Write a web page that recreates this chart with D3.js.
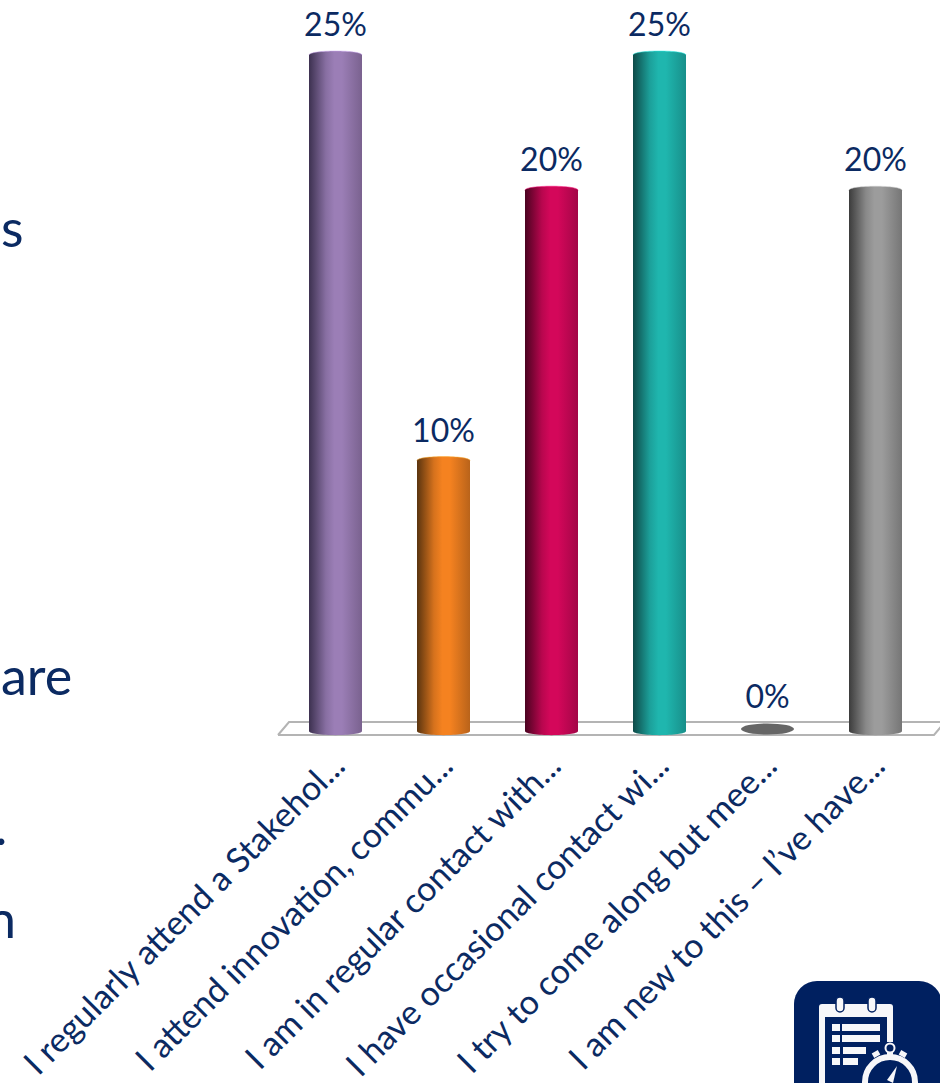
<!DOCTYPE html>
<html>
<head>
<meta charset="utf-8">
<script src="https://cdn.jsdelivr.net/npm/d3@7"></script>
<style>
  html, body { margin: 0; padding: 0; background: #fff; overflow: hidden; }
  svg { display: block; }
  text { font-family: Lato, "Open Sans", sans-serif; fill: #0b2a62; }
</style>
</head>
<body>
<svg id="chart" width="940" height="1083"></svg>
<script>
const categories = [
  "I regularly attend a Stakehol...",
  "I attend innovation, commu...",
  "I am in regular contact with...",
  "I have occasional contact wi...",
  "I try to come along but mee...",
  "I am new to this \u2013 I\u2019ve have..."
];
const percentages = [25, 10, 20, 25, 0, 20];
const barShades = [
  { edge: "#3d3150", mid: "#9b7eb6", side: "#7a628f" },
  { edge: "#5a340f", mid: "#f58220", side: "#b9631a" },
  { edge: "#4a0320", mid: "#d4075a", side: "#a30647" },
  { edge: "#0e4a48", mid: "#1fb6ae", side: "#188f8a" },
  { edge: "#5f5f5f", mid: "#666666", side: "#5f5f5f" },
  { edge: "#3c3c3c", mid: "#9c9c9c", side: "#767676" }
];
// Slide body text running off the left side of the panel
const sideText = [
  { text: "s", x: 1, y: 247 },
  { text: "are", x: 1, y: 695 },
  { text: ".", x: -5, y: 845 },
  { text: "n", x: -13, y: 938 }
];

const svg = d3.select("#chart");
const x = d3.scalePoint().domain(d3.range(categories.length)).range([335.5, 875.5]);
const y = d3.scaleLinear().domain([0, 25]).range([731, 55]);
const barWidth = 53, capRy = 4;

// Cylinder shading, one horizontal gradient per bar
const defs = svg.append("defs");
barShades.forEach((s, i) => {
  const g = defs.append("linearGradient").attr("id", "cyl" + i);
  [[0, s.edge], [0.32, d3.interpolateRgb(s.edge, s.mid)(0.8)], [0.48, s.mid], [0.62, s.mid], [1, s.side]]
    .forEach(([o, c]) => g.append("stop").attr("offset", o).attr("stop-color", c));
});

// Floor of the 3D plot
const floor = d3.path();
floor.moveTo(278, 735); floor.lineTo(289, 722); floor.lineTo(945, 722);
floor.moveTo(278, 735); floor.lineTo(934, 735); floor.lineTo(945, 722);
svg.append("path").attr("d", floor.toString())
  .attr("fill", "none").attr("stroke", "#b4b4b4").attr("stroke-width", 2);

// Cylinders: the side wall with a rounded foot, a domed top and a pale rim
const bars = svg.append("g").selectAll("g").data(percentages).join("g");
bars.each(function (d, i) {
  const g = d3.select(this);
  const cx = x(i), hw = barWidth / 2, base = y(0), top = y(d);
  if (d > 0) {
    const p = d3.path();
    p.moveTo(cx - hw, top);
    p.bezierCurveTo(cx - hw, top - capRy * 1.33, cx + hw, top - capRy * 1.33, cx + hw, top);
    p.lineTo(cx + hw, base);
    p.bezierCurveTo(cx + hw, base + 5.5, cx - hw, base + 5.5, cx - hw, base);
    p.closePath();
    g.append("path").attr("d", p.toString()).attr("fill", `url(#cyl${i})`);
    const rim = d3.path();
    rim.moveTo(cx - hw, top);
    rim.bezierCurveTo(cx - hw, top - capRy * 1.33, cx + hw, top - capRy * 1.33, cx + hw, top);
    g.append("path").attr("d", rim.toString()).attr("fill", "none")
      .attr("stroke", d3.color(barShades[i].mid).brighter(0.8)).attr("stroke-opacity", 0.5);
  } else {
    g.append("ellipse").attr("cx", cx).attr("cy", base - 2).attr("rx", hw).attr("ry", 5.5)
      .attr("fill", barShades[i].mid);
  }
  g.append("text").attr("x", cx).attr("y", top - (d === 0 ? 23 : 19))
    .attr("text-anchor", "middle").attr("font-size", 32)
    .text(d + "%");
});

// Slanted category labels
const axis = d3.axisBottom(x).tickSize(0).tickFormat(i => categories[i]);
const axisG = svg.append("g").attr("transform", "translate(0,735)").call(axis);
axisG.select(".domain").remove();
axisG.selectAll("text")
  .attr("font-size", 34)
  .attr("text-anchor", "end")
  .attr("dx", null).attr("dy", null).attr("y", null).attr("x", null)
  .attr("transform", "translate(11,33) rotate(-45)");

// Clipped body text at the left
svg.append("g").selectAll("text").data(sideText).join("text")
  .attr("x", d => d.x).attr("y", d => d.y)
  .attr("font-size", 52)
  .text(d => d.text);

// Survey badge in the corner
const badge = svg.append("g");
const navy = "#002060", paper = "#f7f7f9";
badge.append("rect").attr("x", 794).attr("y", 981).attr("width", 148).attr("height", 160).attr("rx", 23).attr("fill", navy);
badge.append("rect").attr("x", 819).attr("y", 1004).attr("width", 74).attr("height", 110).attr("rx", 3).attr("fill", paper);
badge.append("rect").attr("x", 825).attr("y", 1017).attr("width", 62).attr("height", 90).attr("fill", navy);
[840, 872].forEach(cx => {
  badge.append("rect").attr("x", cx - 4).attr("y", 997).attr("width", 8).attr("height", 15).attr("rx", 4)
    .attr("fill", paper).attr("stroke", navy).attr("stroke-width", 1.5);
});
const rows = [[1024, 38], [1035, 38], [1047, 23], [1058, 15]];
rows.forEach(([ry, w], i) => {
  badge.append("rect").attr("x", 832).attr("y", ry).attr("width", 8).attr("height", 7).attr("fill", paper);
  badge.append("rect").attr("x", i < 2 ? 842 : 843).attr("y", ry).attr("width", w).attr("height", 7).attr("fill", paper);
});
badge.append("rect").attr("x", 887).attr("y", 1042).attr("width", 10).attr("height", 60).attr("fill", navy);
badge.append("circle").attr("cx", 890).attr("cy", 1082).attr("r", 25).attr("fill", navy).attr("stroke", paper).attr("stroke-width", 6);
badge.append("circle").attr("cx", 890).attr("cy", 1048).attr("r", 4.5).attr("fill", navy).attr("stroke", paper).attr("stroke-width", 2);
badge.append("rect").attr("x", 887).attr("y", 1052).attr("width", 6).attr("height", 5).attr("fill", paper);
[[876, 1054, -30], [903, 1054, 30]].forEach(([lx, ly, a]) => {
  badge.append("rect").attr("x", -3.5).attr("y", -2.5).attr("width", 7).attr("height", 5)
    .attr("transform", `translate(${lx},${ly}) rotate(${a})`).attr("fill", paper);
});
badge.append("path").attr("d", "M897 1066 L893 1083 L887 1080 Z").attr("fill", paper);
</script>
</body>
</html>
